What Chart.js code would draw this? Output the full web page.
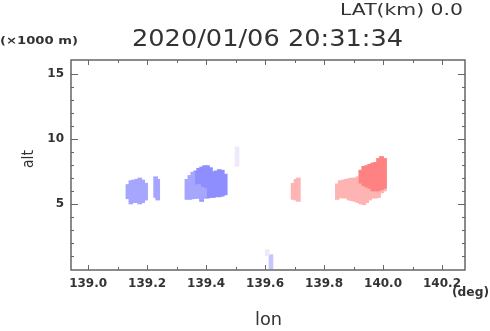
<!DOCTYPE html>
<html>
<head>
<meta charset="utf-8">
<script src="https://cdn.jsdelivr.net/npm/chart.js@4/dist/chart.umd.min.js"></script>
<style>
  html, body { margin: 0; padding: 0; background: #fff; }
  #wrap { width: 490px; height: 331px; }
</style>
</head>
<body>
<div id="wrap"><canvas id="cv" width="490" height="331"></canvas></div>
<script>
// echo columns: lon (deg), base and top altitude (x1000 m), colour level
var colLon = [
  139.135, 139.145, 139.155, 139.165, 139.175, 139.185, 139.195,
  139.229, 139.236,
  139.335, 139.345, 139.355, 139.365, 139.375, 139.385, 139.395, 139.405,
  139.415, 139.425, 139.435, 139.445, 139.455, 139.465,
  139.365, 139.375, 139.385, 139.395,
  139.505,
  139.695, 139.705, 139.713,
  139.845, 139.855, 139.865, 139.875, 139.885, 139.895, 139.905, 139.915,
  139.925, 139.935, 139.945, 139.955, 139.965, 139.975, 139.985, 139.995, 140.005,
  139.925, 139.935, 139.945, 139.955, 139.965, 139.975, 139.985, 139.995, 140.005,
  139.607, 139.620
];
var colBase = [
  5.4, 5.0, 5.1, 5.1, 5.0, 5.1, 5.3,
  5.5, 5.3,
  5.35, 5.35, 5.4, 5.45, 5.45, 5.2, 5.45, 5.45,
  5.5, 5.5, 5.55, 5.55, 5.6, 5.7,
  5.45, 5.45, 5.3, 5.5,
  7.9,
  5.35, 5.3, 5.2,
  5.35, 5.5, 5.45, 5.45, 5.3, 5.25, 5.2, 5.1,
  5.0, 4.95, 5.1, 5.3, 5.45, 5.45, 5.5, 5.85, 6.0,
  6.6, 6.4, 6.3, 6.2, 6.0, 6.0, 6.0, 6.1, 6.2,
  1.0, 0.0
];
var colTop = [
  6.5, 6.8, 6.85, 6.9, 7.0, 6.85, 6.6,
  7.1, 6.9,
  6.9, 7.2, 7.45, 7.55, 7.75, 7.85, 7.95, 7.95,
  7.8, 7.5, 7.55, 7.65, 7.6, 7.3,
  6.4, 6.5, 6.3, 6.2,
  9.4,
  6.6, 6.9, 7.0,
  6.55, 6.8, 6.85, 6.9, 6.95, 7.0, 7.0, 7.1,
  7.6, 7.9, 7.95, 8.05, 8.15, 8.2, 8.5, 8.65, 8.5,
  7.6, 7.9, 7.95, 8.05, 8.15, 8.2, 8.5, 8.65, 8.5
  , 1.5, 1.1
];
var colLevel = [
  1, 1, 1, 1, 1, 1, 1,
  1, 1,
  1, 1, 1, 2, 2, 2, 2, 2,
  2, 2, 2, 2, 2, 2,
  1, 1, 1, 1,
  0,
  3, 3, 3,
  3, 3, 3, 3, 3, 3, 3, 3,
  3, 3, 3, 3, 3, 3, 3, 3, 3,
  4, 4, 4, 4, 4, 4, 4, 4, 4,
  0, 5
];
// colour per level: pale, light blue, blue, light red, red, faint blue
var levelColors = ['#efe9fb', '#a6a6ff', '#8e8eff', '#ffb4b4', '#ff8282', '#c6c6ff'];
var drawOrder = [5, 0, 2, 1, 3, 4];

var xMajor = [139.0, 139.2, 139.4, 139.6, 139.8, 140.0, 140.2];
var xMinor = [139.1, 139.3, 139.5, 139.7, 139.9, 140.1];
var yMajor = [5, 10, 15];
var yMinor = [1, 2, 3, 4, 6, 7, 8, 9, 11, 12, 13, 14];

var datasets = drawOrder.map(function (lv, i) {
  var pts = [];
  for (var k = 0; k < colLon.length; k++) {
    if (colLevel[k] === lv) pts.push({ x: colLon[k], y: [colBase[k], colTop[k]] });
  }
  return {
    data: pts,
    backgroundColor: levelColors[lv],
    borderWidth: 0,
    barThickness: 4,
    grouped: false,
    order: drawOrder.length - i
  };
});

function fitText(ctx, txt, x, y, w, align) {
  var m = ctx.measureText(txt).width;
  ctx.save();
  ctx.translate(x, y);
  ctx.scale(w / m, 1);
  ctx.textAlign = align;
  ctx.fillText(txt, 0, 0);
  ctx.restore();
}

var frame = {
  id: 'frame',
  afterDatasetsDraw: function (chart) {
    var ctx = chart.ctx, a = chart.chartArea, x = chart.scales.x, y = chart.scales.y;
    ctx.save();
    ctx.strokeStyle = '#666';
    ctx.lineWidth = 1;
    ctx.beginPath();
    function tx(v, len) {
      var p = Math.round(x.getPixelForValue(v)) + 0.5;
      ctx.moveTo(p, a.bottom); ctx.lineTo(p, a.bottom - len);
      ctx.moveTo(p, a.top); ctx.lineTo(p, a.top + len);
    }
    function ty(v, len) {
      var p = Math.round(y.getPixelForValue(v)) + 0.5;
      ctx.moveTo(a.left, p); ctx.lineTo(a.left + len, p);
      ctx.moveTo(a.right, p); ctx.lineTo(a.right - len, p);
    }
    xMajor.forEach(function (v) { tx(v, 5); });
    xMinor.forEach(function (v) { tx(v, 3); });
    yMajor.forEach(function (v) { ty(v, 7); });
    yMinor.forEach(function (v) { ty(v, 3); });
    ctx.stroke();
    ctx.lineWidth = 1.5;
    ctx.strokeRect(a.left, a.top, a.right - a.left, a.bottom - a.top);

    // labels around the plot
    ctx.fillStyle = '#333';
    ctx.textBaseline = 'alphabetic';
    ctx.font = '16px "DejaVu Sans"';
    fitText(ctx, 'LAT(km) 0.0', 463, 15, 123, 'right');
    ctx.font = '23px "DejaVu Sans"';
    fitText(ctx, '2020/01/06 20:31:34', 267.5, 46, 271, 'center');
    ctx.font = 'bold 11px "DejaVu Sans"';
    fitText(ctx, '(×1000 m)', 0, 44, 78, 'left');
    ctx.font = 'bold 12px "DejaVu Sans"';
    fitText(ctx, '(deg)', 489, 296, 37, 'right');
    ctx.font = '17px "DejaVu Sans"';
    fitText(ctx, 'lon', 268.5, 325, 27, 'center');
    ctx.save();
    ctx.translate(33, 159);
    ctx.rotate(-Math.PI / 2);
    ctx.font = '16px "DejaVu Sans"';
    fitText(ctx, 'alt', 0, 0, 18, 'center');
    ctx.restore();
    ctx.restore();
  }
};

new Chart(document.getElementById('cv'), {
  type: 'bar',
  data: { datasets: datasets },
  options: {
    responsive: false,
    animation: false,
    layout: { padding: { left: 0, top: 60, right: 25, bottom: 0 } },
    plugins: { legend: { display: false }, tooltip: { enabled: false } },
    scales: {
      x: {
        type: 'linear', min: 138.942, max: 140.278, offset: false,
        grid: { display: false, drawTicks: false }, border: { display: false },
        afterBuildTicks: function (s) { s.ticks = xMajor.map(function (v) { return { value: v }; }); },
        afterFit: function (s) { s.height = 61; },
        ticks: {
          autoSkip: false, maxRotation: 0, padding: 7, color: '#333',
          font: { family: 'DejaVu Sans', weight: 'bold', size: 12 },
          callback: function (v) { return Number(v).toFixed(1); }
        }
      },
      y: {
        type: 'linear', min: -0.08, max: 16.08,
        grid: { display: false, drawTicks: false }, border: { display: false },
        afterBuildTicks: function (s) { s.ticks = yMajor.map(function (v) { return { value: v }; }); },
        afterFit: function (s) { s.width = 71; },
        ticks: {
          padding: 7, color: '#333',
          font: { family: 'DejaVu Sans', weight: 'bold', size: 12 }
        }
      }
    }
  },
  plugins: [frame]
});
</script>
</body>
</html>
